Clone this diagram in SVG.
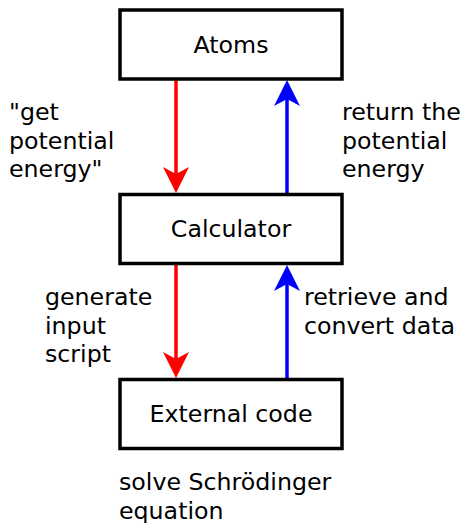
<svg xmlns="http://www.w3.org/2000/svg" width="464" height="523" viewBox="0 0 464 523">
<style>
.box{fill:#fff;stroke:#000;stroke-width:3.5}
.t{font-family:"DejaVu Sans",sans-serif;font-size:23.7px;fill:#000}
.c{text-anchor:middle}
.red{stroke:#f00;stroke-width:3.5;fill:none}
.blue{stroke:#00f;stroke-width:3.5;fill:none}
</style>
<rect width="464" height="523" fill="#fff"/>
<g id="connectors">
<line class="red" x1="176" y1="80" x2="176" y2="176"/>
<polygon points="176,193 163,167 176,174 189,167" fill="#f00"/>
<line class="blue" x1="287" y1="193" x2="287" y2="97"/>
<polygon points="287,80 274,106 287,99 300,106" fill="#00f"/>
<line class="red" x1="176" y1="264" x2="176" y2="361"/>
<polygon points="176,378 163,352 176,359 189,352" fill="#f00"/>
<line class="blue" x1="287" y1="378" x2="287" y2="282"/>
<polygon points="287,265 274,291 287,284 300,291" fill="#00f"/>
</g>
<g id="atoms">
<rect class="box" x="120" y="10" width="222" height="69"/>
<text class="t c" x="231" y="53">Atoms</text>
</g>
<g id="calculator">
<rect class="box" x="120" y="194.5" width="222" height="69"/>
<text class="t c" x="231" y="237">Calculator</text>
</g>
<g id="external">
<rect class="box" x="120" y="379.5" width="222" height="69"/>
<text class="t c" x="231" y="422">External code</text>
</g>
<g id="labels">
<text class="t" x="9" y="120">"get<tspan x="9" dy="28.5">potential</tspan><tspan x="9" dy="28.5">energy"</tspan></text>
<text class="t" x="342" y="120">return the<tspan x="342" dy="28.5">potential</tspan><tspan x="342" dy="28.5">energy</tspan></text>
<text class="t" x="45" y="305">generate<tspan x="45" dy="28.5">input</tspan><tspan x="45" dy="28.5">script</tspan></text>
<text class="t" x="304" y="305">retrieve and<tspan x="304" dy="28.5">convert data</tspan></text>
<text class="t" x="119" y="490">solve Schrödinger<tspan x="119" dy="28.5">equation</tspan></text>
</g>
</svg>
